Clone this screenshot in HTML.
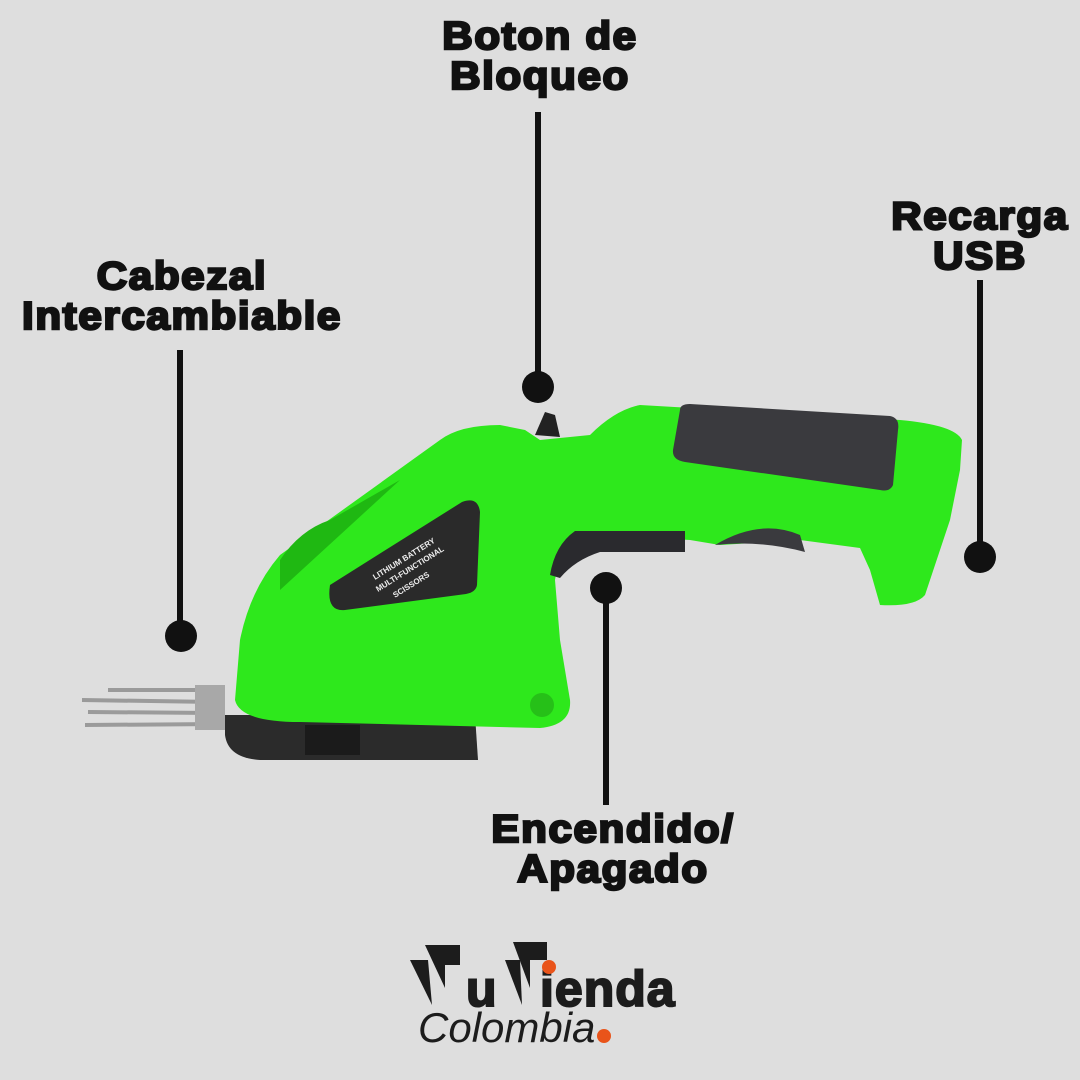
<!DOCTYPE html>
<html><head><meta charset="utf-8"><style>
html,body{margin:0;padding:0;background:#dedede;}
.w{position:relative;width:1080px;height:1080px;overflow:hidden;background:#dedede;font-family:"Liberation Sans",sans-serif;}
.t{position:absolute;font-weight:bold;color:#111;text-align:center;font-size:39px;line-height:40px;-webkit-text-stroke:2.4px #111;letter-spacing:1.5px;white-space:nowrap;transform:scaleX(1.08);transform-origin:center;}
</style></head><body><div class="w">
<svg width="1080" height="1080" style="position:absolute;left:0;top:0">
<g fill="#111" stroke="#111">
<line x1="180" y1="350" x2="180" y2="625" stroke-width="6"/><circle cx="181" cy="636" r="16" stroke="none"/>
<line x1="538" y1="112" x2="538" y2="380" stroke-width="6"/><circle cx="538" cy="387" r="16" stroke="none"/>
<line x1="980" y1="280" x2="980" y2="550" stroke-width="6"/><circle cx="980" cy="557" r="16" stroke="none"/>
<line x1="606" y1="595" x2="606" y2="805" stroke-width="6"/><circle cx="606" cy="588" r="16" stroke="none"/>
</g>
<g stroke="#9a9a9a" stroke-width="4">
<line x1="108" y1="690" x2="215" y2="690"/><line x1="82" y1="700" x2="215" y2="702"/>
<line x1="88" y1="712" x2="215" y2="713"/><line x1="85" y1="725" x2="220" y2="724"/>
</g>
<rect x="195" y="685" width="30" height="45" fill="#a8a8a8"/>
<path d="M225 715 L475 715 L478 760 L260 760 Q228 758 225 735 Z" fill="#2b2b2b"/>
<rect x="305" y="725" width="55" height="30" fill="#1b1b1b"/>
<path d="M535 435 L545 412 L555 415 L560 437 Z" fill="#222"/>
<path d="M235 700 L240 640 Q250 590 280 555 L440 440 Q460 425 500 425 L525 430 L540 440 L590 435 Q615 410 640 405 L900 420 Q955 425 962 440 L960 470 L950 520 L925 595 Q915 607 880 605 L870 570 L860 548 L800 540 L720 545 L690 540 L600 535 Q560 545 555 580 L560 640 L570 700 Q572 725 540 728 L300 722 Q240 722 235 700 Z" fill="#2ee81c"/>
<path d="M280 560 Q300 530 330 520 L400 480 L280 590 Z" fill="#1fb812"/>
<path d="M680 410 Q680 404 690 404 L890 416 Q900 418 898 430 L893 485 Q890 492 880 490 L685 462 Q672 460 673 450 Z" fill="#3a3a3e"/>
<path d="M575 531 L685 531 L685 552 L600 552 Q575 560 560 578 L550 575 Q555 545 575 531 Z" fill="#2a2a2e"/>
<path d="M715 545 Q760 518 800 535 L805 552 Q760 540 715 545 Z" fill="#3a3a3e"/>
<path d="M330 585 L462 502 Q478 496 480 512 L477 585 Q476 592 466 594 L345 610 Q326 612 330 585 Z" fill="#2a2a2a"/>
<text transform="translate(375,580) rotate(-32)" font-size="8" fill="#eee" font-weight="bold">LITHIUM BATTERY</text>
<text transform="translate(378,592) rotate(-32)" font-size="8" fill="#eee" font-weight="bold">MULTI-FUNCTIONAL</text>
<text transform="translate(395,598) rotate(-32)" font-size="8" fill="#eee" font-weight="bold">SCISSORS</text>
<circle cx="542" cy="705" r="12" fill="#26c018"/>
<g fill="#1c1c1c">
<polygon points="410,960 428,960 432,1005"/>
<polygon points="425,945 460,945 460,965 445,965 445,988"/>
<polygon points="505,960 520,960 522,1005"/>
<polygon points="513,942 547,942 547,960 530,960 530,988"/>
</g>
<text x="466" y="1006" font-size="50" font-weight="900" fill="#1c1c1c" stroke="#1c1c1c" stroke-width="2">u</text>
<text x="540" y="1006" font-size="50" font-weight="900" fill="#1c1c1c" stroke="#1c1c1c" stroke-width="2" letter-spacing="1">ienda</text>
<circle cx="549" cy="967" r="7" fill="#e9541a"/>
<text x="418" y="1042" font-size="42" font-style="italic" fill="#1c1c1c">Colombia</text>
<circle cx="604" cy="1036" r="7" fill="#e9541a"/>
</svg>
<div class="t" style="left:340px;width:400px;top:17px">Boton de<br>Bloqueo</div>
<div class="t" style="left:0;width:364px;top:257px">Cabezal<br>Intercambiable</div>
<div class="t" style="left:860px;width:240px;top:197px">Recarga<br>USB</div>
<div class="t" style="left:410px;width:406px;top:810px">Encendido/<br>Apagado</div>
</div></body></html>
